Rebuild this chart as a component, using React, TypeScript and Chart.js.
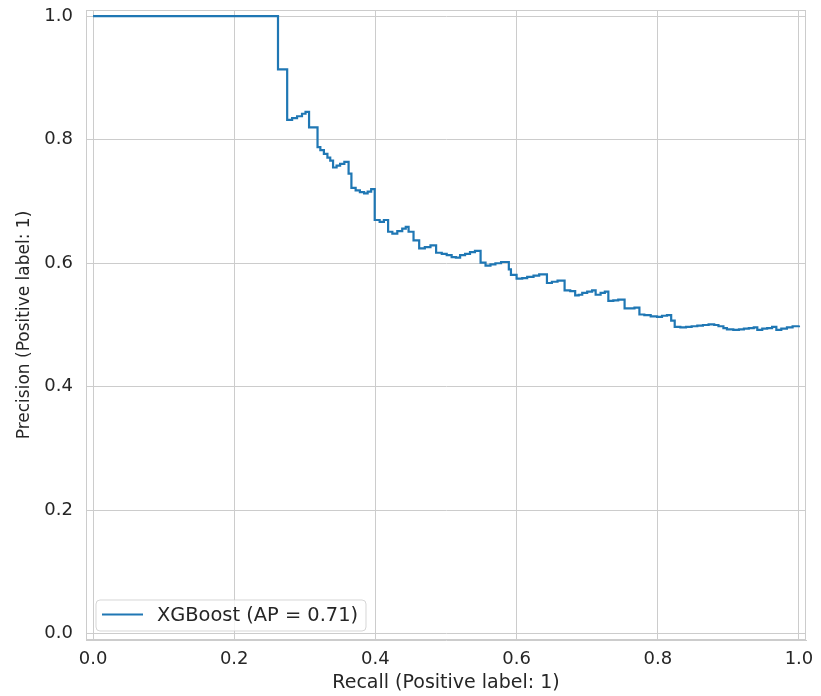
import React, { useEffect, useRef } from "react";
import { Chart, registerables } from "chart.js";

Chart.register(...registerables);

const recall = [
  0, 0.262, 0.275, 0.282, 0.289, 0.296, 0.301, 0.306, 0.318, 0.322, 0.327, 0.332, 0.336,
  0.340, 0.345, 0.350, 0.356, 0.362, 0.366, 0.372, 0.378, 0.384, 0.389, 0.394, 0.399,
  0.406, 0.412, 0.418, 0.424, 0.431, 0.438, 0.443, 0.447, 0.454, 0.462, 0.470, 0.478,
  0.486, 0.494, 0.501, 0.508, 0.514, 0.520, 0.527, 0.534, 0.541, 0.549, 0.556, 0.563,
  0.570, 0.578, 0.589, 0.592, 0.600, 0.608, 0.615, 0.624, 0.632, 0.643, 0.650, 0.658,
  0.668, 0.676, 0.683, 0.688, 0.693, 0.700, 0.707, 0.712, 0.719, 0.725, 0.730, 0.737,
  0.744, 0.753, 0.760, 0.767, 0.774, 0.781, 0.790, 0.799, 0.806, 0.813, 0.819, 0.824,
  0.832, 0.840, 0.848, 0.856, 0.864, 0.872, 0.880, 0.886, 0.893, 0.898, 0.907, 0.915,
  0.922, 0.929, 0.936, 0.941, 0.948, 0.955, 0.962, 0.968, 0.975, 0.983, 0.991, 1.0,
];

const precision = [
  1.0, 0.914, 0.832, 0.835, 0.838, 0.842, 0.845, 0.820, 0.788, 0.783, 0.777, 0.771, 0.766,
  0.755, 0.758, 0.761, 0.764, 0.745, 0.722, 0.718, 0.715, 0.713, 0.716, 0.720, 0.670,
  0.667, 0.670, 0.651, 0.648, 0.652, 0.656, 0.659, 0.651, 0.637, 0.624, 0.626, 0.629,
  0.617, 0.615, 0.613, 0.610, 0.609, 0.613, 0.615, 0.618, 0.620, 0.601, 0.596, 0.598,
  0.600, 0.602, 0.590, 0.581, 0.575, 0.576, 0.578, 0.580, 0.582, 0.568, 0.570, 0.572,
  0.556, 0.555, 0.548, 0.549, 0.552, 0.554, 0.556, 0.549, 0.552, 0.554, 0.539, 0.540,
  0.541, 0.527, 0.527, 0.528, 0.517, 0.516, 0.514, 0.513, 0.515, 0.516, 0.507, 0.497,
  0.496, 0.497, 0.498, 0.499, 0.500, 0.501, 0.500, 0.498, 0.495, 0.493, 0.492, 0.493,
  0.494, 0.495, 0.496, 0.492, 0.494, 0.495, 0.497, 0.492, 0.494, 0.496, 0.498, 0.499,
];

const tickValues = [0, 0.2, 0.4, 0.6, 0.8, 1.0];
const seriesLabel = "XGBoost (AP = 0.71)";
const xTitle = "Recall (Positive label: 1)";
const yTitle = "Precision (Positive label: 1)";

const FONT = "'DejaVu Sans', sans-serif";
const TEXT = "#262626";
const GRID = "#cccccc";
const LINE = "#1f77b4";

export default function App() {
  const ref = useRef<HTMLCanvasElement>(null);

  useEffect(() => {
    const canvas = ref.current;
    if (!canvas) return;

    const frame = {
      id: "frame",
      beforeDatasetsDraw(chart: any) {
        const { ctx, chartArea: a } = chart;
        ctx.save();
        ctx.strokeStyle = GRID;
        ctx.lineWidth = 1;
        const l = Math.round(a.left) + 0.5;
        const t = Math.round(a.top) + 0.5;
        const r = Math.round(a.right) - 0.5;
        const b = Math.round(a.bottom) - 0.5;
        ctx.strokeRect(l, t, r - l, b - t);
        ctx.restore();
      },
    };

    const legendBox = {
      id: "legendBox",
      afterDatasetsDraw(chart: any) {
        const { ctx, chartArea: a } = chart;
        const ds = chart.data.datasets[0];
        ctx.save();
        const x = a.left + 10;
        const y = a.bottom - 40;
        const w = 270;
        const h = 31;
        const rad = 4;
        ctx.beginPath();
        ctx.moveTo(x + rad, y);
        ctx.lineTo(x + w - rad, y);
        ctx.arcTo(x + w, y, x + w, y + rad, rad);
        ctx.lineTo(x + w, y + h - rad);
        ctx.arcTo(x + w, y + h, x + w - rad, y + h, rad);
        ctx.lineTo(x + rad, y + h);
        ctx.arcTo(x, y + h, x, y + h - rad, rad);
        ctx.lineTo(x, y + rad);
        ctx.arcTo(x, y, x + rad, y, rad);
        ctx.closePath();
        ctx.fillStyle = "rgba(255,255,255,0.8)";
        ctx.fill();
        ctx.strokeStyle = "rgba(204,204,204,0.8)";
        ctx.lineWidth = 1;
        ctx.stroke();
        const cy = y + h / 2 - 1;
        ctx.beginPath();
        ctx.moveTo(x + 6, cy);
        ctx.lineTo(x + 47, cy);
        ctx.strokeStyle = ds.borderColor;
        ctx.lineWidth = 2;
        ctx.stroke();
        ctx.fillStyle = TEXT;
        ctx.font = `19.4px ${FONT}`;
        ctx.textBaseline = "middle";
        ctx.textAlign = "left";
        ctx.fillText(ds.label, x + 61, cy + 1);
        ctx.restore();
      },
    };

    const chart = new Chart(canvas, {
      type: "line",
      data: {
        datasets: [
          {
            label: seriesLabel,
            data: recall.map((r, i) => ({ x: r, y: precision[i] })),
            borderColor: LINE,
            borderWidth: 2.2,
            pointRadius: 0,
            stepped: "before",
            fill: false,
          },
        ],
      },
      options: {
        animation: false,
        responsive: false,
        devicePixelRatio: 1,
        layout: { padding: { top: 10, right: 15, left: 0, bottom: 0 } },
        plugins: { legend: { display: false }, tooltip: { enabled: false } },
        scales: {
          x: {
            type: "linear",
            min: -0.01,
            max: 1.01,
            afterBuildTicks: (s: any) => {
              s.ticks = tickValues.map((v) => ({ value: v }));
            },
            afterFit: (s: any) => {
              s.height = 56;
              s.paddingLeft = 0;
              s.paddingRight = 0;
            },
            ticks: {
              callback: (v: any) => Number(v).toFixed(1),
              font: { family: FONT, size: 18 },
              color: TEXT,
              padding: 9,
              maxRotation: 0,
              autoSkip: false,
            },
            grid: { color: GRID, lineWidth: 1, drawTicks: false },
            border: { color: GRID },
            title: {
              display: true,
              text: xTitle,
              font: { family: FONT, size: 19 },
              color: TEXT,
              padding: { top: 0, bottom: 1.5 },
            },
          },
          y: {
            type: "linear",
            min: -0.01,
            max: 1.01,
            afterBuildTicks: (s: any) => {
              s.ticks = tickValues.map((v) => ({ value: v }));
            },
            afterFit: (s: any) => {
              s.width = 86;
              s.paddingTop = 0;
              s.paddingBottom = 0;
            },
            ticks: {
              callback: (v: any) => Number(v).toFixed(1),
              font: { family: FONT, size: 18 },
              color: TEXT,
              padding: 13,
              autoSkip: false,
            },
            grid: { color: GRID, lineWidth: 1, drawTicks: false },
            border: { color: GRID },
            title: {
              display: true,
              text: yTitle,
              font: { family: FONT, size: 17 },
              color: TEXT,
              padding: { top: 14, bottom: 0 },
            },
          },
        },
      },
      plugins: [frame, legendBox],
    });

    return () => chart.destroy();
  }, []);

  return (
    <div style={{ position: "fixed", left: 0, top: 0, width: 821, height: 696, background: "#ffffff" }}>
      <canvas ref={ref} width={821} height={696} style={{ display: "block" }} />
    </div>
  );
}
